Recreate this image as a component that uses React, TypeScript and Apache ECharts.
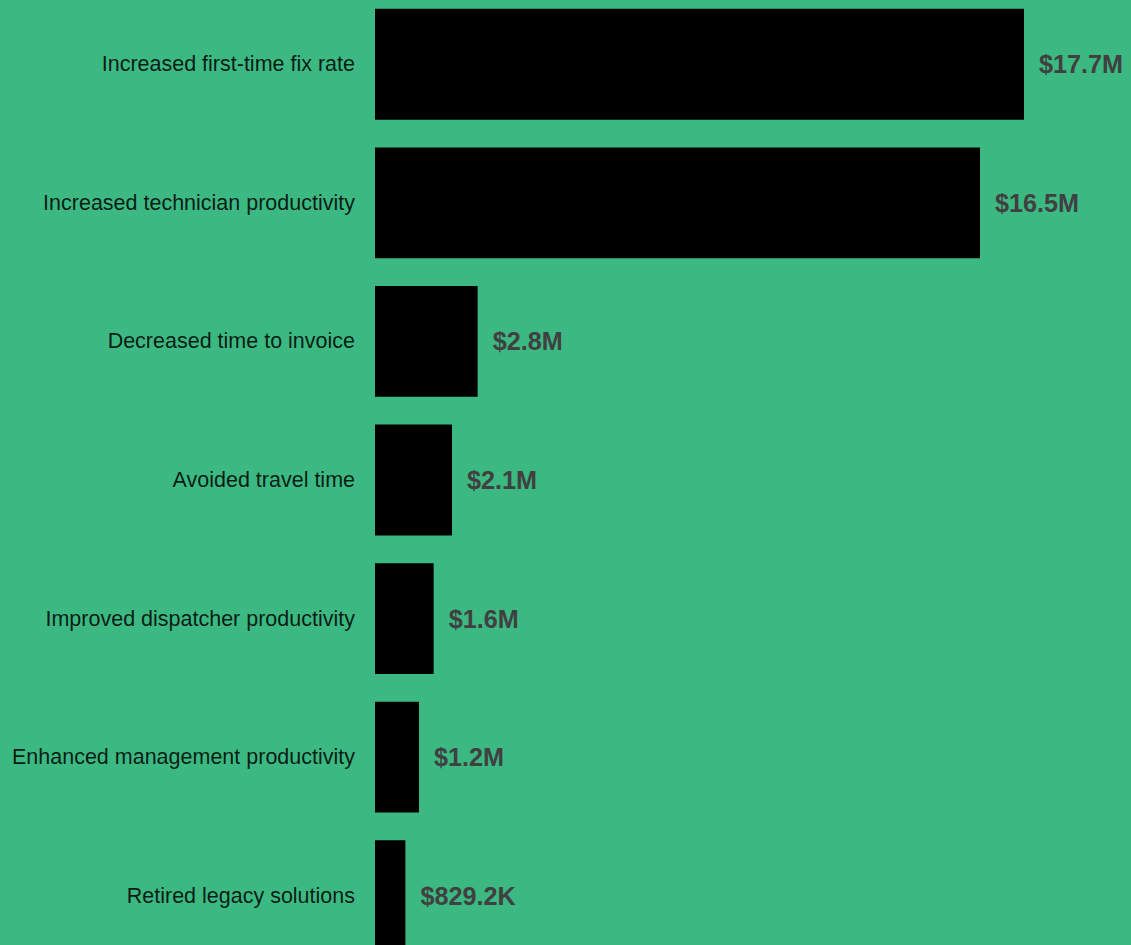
import React, { useEffect, useRef } from "react";
import * as echarts from "echarts";

const categories = [
  "Increased first-time fix rate",
  "Increased technician productivity",
  "Decreased time to invoice",
  "Avoided travel time",
  "Improved dispatcher productivity",
  "Enhanced management productivity",
  "Retired legacy solutions",
];

// values in millions of dollars
const values = [17.7, 16.5, 2.8, 2.1, 1.6, 1.2, 0.8292];

const BG = "#3cb883";

function fmt(v: number): string {
  if (v >= 1) return "$" + v.toFixed(1) + "M";
  return "$" + (v * 1000).toFixed(1) + "K";
}

export default function App() {
  const ref = useRef<HTMLDivElement>(null);
  useEffect(() => {
    document.body.style.margin = "0";
    document.body.style.background = BG;
    document.body.style.overflow = "hidden";
    const chart = echarts.init(ref.current!, undefined, { renderer: "svg" });
    chart.setOption({
      animation: false,
      backgroundColor: BG,
      grid: { left: 375, right: 107, top: 0, bottom: 0, containLabel: false },
      xAxis: {
        type: "value",
        min: 0,
        max: "dataMax",
        show: false,
        splitLine: { show: false },
      },
      yAxis: {
        type: "category",
        data: categories,
        inverse: true,
        axisLine: { show: false },
        axisTick: { show: false },
        axisLabel: {
          margin: 20,
          fontSize: 21.5,
          fontFamily: "Liberation Sans, Arial, sans-serif",
          color: "rgba(0,0,0,0.85)",
        },
      },
      series: [
        {
          type: "bar",
          data: values,
          barCategoryGap: "20%",
          itemStyle: { color: "#000" },
          label: {
            show: true,
            position: "right",
            distance: 15,
            formatter: (p: any) => fmt(p.value),
            fontSize: 25.2,
            fontWeight: "bold",
            fontFamily: "Liberation Sans, Arial, sans-serif",
            color: "#404040",
          },
        },
      ],
    });
    return () => chart.dispose();
  }, []);
  return (
    <div
      ref={ref}
      style={{ position: "absolute", left: 0, top: -5, width: 1131, height: 970 }}
    />
  );
}
